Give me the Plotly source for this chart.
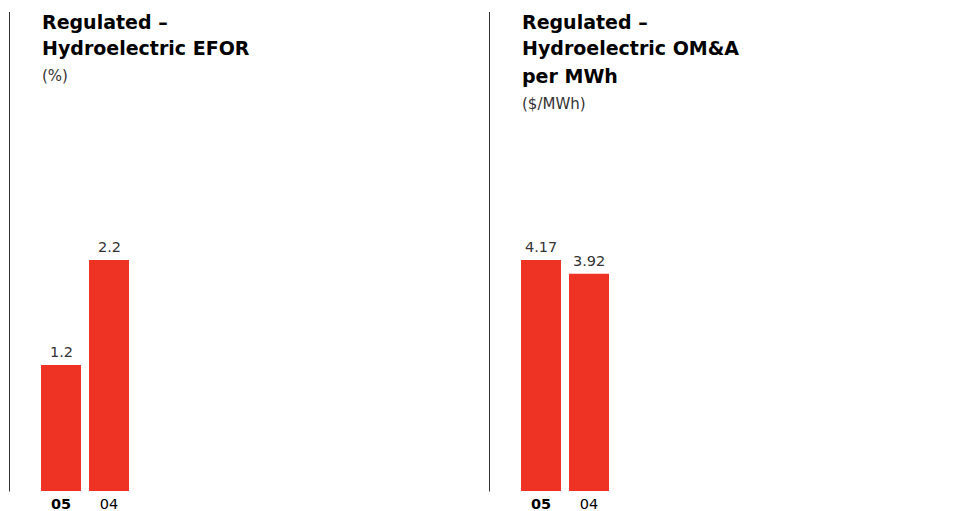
import plotly.graph_objects as go

W, H = 957, 511

years = ["05", "04"]
year_labels = ["<b>05</b>", "04"]
efor_values = [1.2, 2.2]
efor_labels = ["1.2", "2.2"]
oma_values = [4.17, 3.92]
oma_labels = ["4.17", "3.92"]

titles_left = ["Regulated –", "Hydroelectric EFOR"]
unit_left = "(%)"
titles_right = ["Regulated –", "Hydroelectric OM&A", "per MWh"]
unit_right = "($/MWh)"

RED = "#EE3325"
TXT = "#333333"
BODY_FONT = "DejaVu Sans"
TITLE_FONT = "DejaVu Sans"


def px_x(p):
    return p / W


def px_y(p):
    return (H - p) / H


fig = go.Figure()
fig.add_trace(go.Bar(x=years, y=efor_values, marker_color=RED, xaxis="x", yaxis="y",
                     marker_line_width=0, hoverinfo="skip"))
fig.add_trace(go.Bar(x=years, y=oma_values, marker_color=RED, xaxis="x2", yaxis="y2",
                     marker_line_width=0, hoverinfo="skip"))

y_bottom_px, y_top_px, bar_top_px = 491, 30, 260
scale = (y_bottom_px - y_top_px) / (y_bottom_px - bar_top_px)

annotations = []
for xr, yr, vals, labs in [("x", "y", efor_values, efor_labels), ("x2", "y2", oma_values, oma_labels)]:
    for i, (v, t) in enumerate(zip(vals, labs)):
        annotations.append(dict(x=i, y=v, xref=xr, yref=yr, text=t, showarrow=False,
                                yanchor="bottom", yshift=3,
                                font=dict(family=BODY_FONT, size=14.5, color=TXT)))

def add_title(lines, unit, x_px):
    for i, line in enumerate(lines):
        annotations.append(dict(x=px_x(x_px), y=px_y(21.5 + 27 * i), xref="paper", yref="paper",
                                xanchor="left", yanchor="middle", showarrow=False,
                                text="<b>" + line + "</b>",
                                font=dict(family=TITLE_FONT, size=19, color="#000000")))
    annotations.append(dict(x=px_x(x_px), y=px_y(21.5 + 27 * len(lines) + 1), xref="paper", yref="paper",
                            xanchor="left", yanchor="middle", showarrow=False, text=unit,
                            font=dict(family=BODY_FONT, size=15, color=TXT)))

add_title(titles_left, unit_left, 40)
add_title(titles_right, unit_right, 520)

shapes = []
for lx in [9.5, 489.5]:
    shapes.append(dict(type="line", xref="paper", yref="paper",
                       x0=px_x(lx), x1=px_x(lx), y0=px_y(12), y1=px_y(491.5),
                       line=dict(color="#333333", width=1)))

xaxis_common = dict(type="category", range=[-0.5, 1.5], showgrid=False, zeroline=False,
                    showline=False, ticks="", tickmode="array", tickvals=years,
                    ticktext=year_labels, fixedrange=True, ticklabelstandoff=2,
                    automargin=False,
                    tickfont=dict(family=BODY_FONT, size=14.5, color="#000000"))
yaxis_common = dict(showgrid=False, zeroline=False, showline=False, showticklabels=False,
                    ticks="", automargin=False,
                    domain=[px_y(y_bottom_px), px_y(y_top_px)], fixedrange=True)

fig.update_layout(
    width=W, height=H,
    margin=dict(l=0, r=0, t=0, b=0, pad=0),
    paper_bgcolor="white", plot_bgcolor="white",
    showlegend=False, bargap=8 / 48,
    xaxis=dict(**xaxis_common, domain=[px_x(37), px_x(133)], anchor="y"),
    xaxis2=dict(**xaxis_common, domain=[px_x(517), px_x(613)], anchor="y2"),
    yaxis=dict(**yaxis_common, range=[0, max(efor_values) * scale], anchor="x"),
    yaxis2=dict(**yaxis_common, range=[0, max(oma_values) * scale], anchor="x2"),
    annotations=annotations, shapes=shapes,
)

fig.write_html("out.html", config={"displayModeBar": False},
               post_script="document.body.style.margin='0px';document.body.style.overflow='hidden';")
